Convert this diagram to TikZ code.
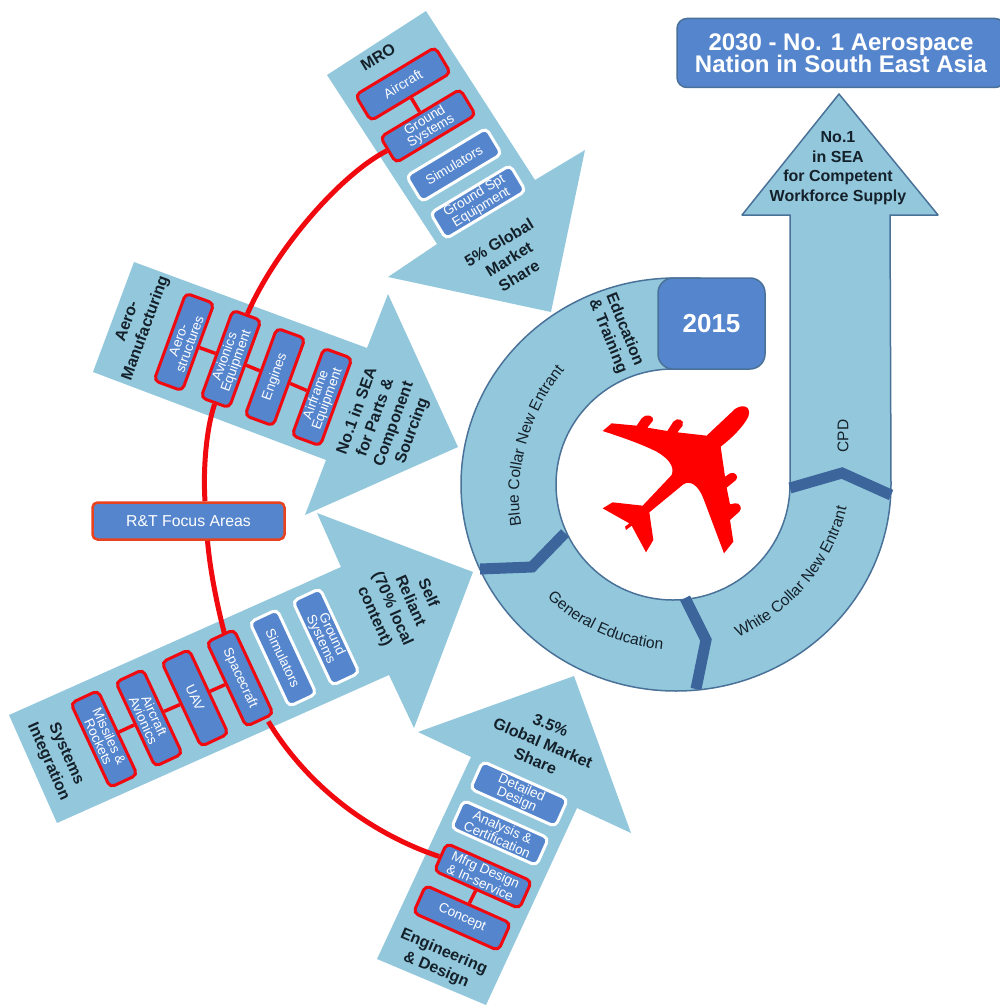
\documentclass[tikz,border=0pt]{standalone}
\usepackage{fontspec}
\setmainfont{Liberation Sans}
\usetikzlibrary{decorations.text}
\definecolor{lightb}{HTML}{93C8DC}
\definecolor{boxb}{HTML}{5585CC}
\definecolor{darkb}{HTML}{3C659C}
\definecolor{edgeb}{HTML}{4A7299}
\definecolor{redl}{HTML}{F00A10}
\definecolor{rtedge}{HTML}{E8431F}
\definecolor{txt}{HTML}{14202A}
\tikzset{
  arrowshape/.style={fill=lightb,draw=none},
  basebox/.style={rectangle,rounded corners=5pt,fill=boxb,text=white,align=center,inner sep=0pt,line width=3pt,
     minimum width=93pt,minimum height=30pt,font=\fontsize{13.5}{12}\selectfont},
  rbox/.style={basebox,draw=redl},
  wbox/.style={basebox,draw=white},
  lab/.style={font=\fontsize{16}{19.5}\selectfont\bfseries,align=center,inner sep=0pt,text=txt},
  link/.style={draw=redl,line width=3.5pt},
  redarc/.style={draw=redl,line width=5pt},
  sepline/.style={draw=darkb,line width=11pt,line join=miter},
  ringtext/.style={decorate,decoration={text along path,text align=center,text={#1}}},
}
\newcommand{\ringf}{\fontsize{15.6}{17}\selectfont\color{txt}}
\begin{document}
\begin{tikzpicture}[x=1pt,y=-1pt]
\useasboundingbox (0,0) rectangle (1000,1006);
% outer arrows
\path[arrowshape] (327,75) -- (426,11) -- (535,180) -- (585,150) -- (551,312) -- (388,277) -- (437,244) -- cycle;
\path[arrowshape] (134,262) -- (93,372) -- (326,460) -- (305,515) -- (458,447) -- (388,294) -- (367,348) -- cycle;
\path[arrowshape] (9,715) -- (57,823) -- (389,675) -- (414,728) -- (473,572) -- (317,513) -- (341,567) -- cycle;
\path[arrowshape] (377,959) -- (486,1005) -- (577,808) -- (631,833) -- (574,676) -- (418,732) -- (471,757) -- cycle;
% ring and big arrow
\draw[fill=lightb,draw=edgeb,line width=1.5pt,line join=round]
  (700,278) -- (676,278) arc[start angle=270,end angle=0,x radius=215,y radius=206.5]
  -- (890,215) -- (938,215) -- (839,94) -- (742,215) -- (790,215) -- (790,484.5)
  arc[start angle=0,end angle=270,x radius=117,y radius=115.5] -- (700,369) -- cycle;
% separators
\draw[sepline] (790,488) -- (842,473) -- (891,495);
\draw[sepline] (565,533) -- (532,567) -- (480,569);
\draw[sepline] (685,598) -- (706,640) -- (696,689);
% 2015 and title
\node[fill=boxb,draw=edgeb,line width=1.5pt,rounded corners=15pt,minimum width=107pt,minimum height=91pt,inner sep=0pt,text=white,font=\fontsize{26}{28}\selectfont\bfseries] (yr) at (711.5,323.5) {2015};
\node[fill=boxb,draw=edgeb,line width=1.5pt,rounded corners=10pt,minimum width=328pt,minimum height=69pt,inner sep=0pt,text=white,align=center,font=\fontsize{24}{22.5}\selectfont\bfseries] (title) at (841,53) {2030 - No. 1 Aerospace\\Nation in South East Asia};
% plane
\begin{scope}[shift={(590,395)},x=0.33333pt,y=-0.33333pt]
\fill[red] (38,108) -- (65,85) -- (140,92) -- (155,70) .. controls (165,55) and (195,60) .. (188,78) -- (172,98) -- (232,108) -- (250,80)
 .. controls (262,65) and (285,75) .. (278,92) -- (262,112) -- (350,122) -- (435,42) .. controls (460,25) and (485,35) .. (475,65)
 .. controls (460,95) and (425,130) .. (392,155) -- (405,245) -- (420,235) .. controls (435,228) and (448,245) .. (438,255) -- (410,278) -- (420,328) -- (435,325)
 .. controls (450,322) and (458,340) .. (448,350) -- (420,375) -- (430,440) -- (402,475) -- (340,310) .. controls (325,270) and (300,255) .. (280,268)
 -- (178,352) -- (190,435) -- (168,472) -- (125,392) -- (108,405) -- (105,395) -- (118,385) -- (38,340) -- (68,322) -- (158,332) -- (245,240)
 .. controls (255,215) and (235,190) .. (200,170) .. controls (150,145) and (90,125) .. (38,108) -- cycle;
\end{scope}
% MRO
\node[rbox,rotate=31] (ac) at (403,84) {Aircraft};
\node[rbox,rotate=31] (gs) at (428,126) {Ground\\Systems};
\node[wbox,rotate=31] (sim1) at (454,165) {Simulators};
\node[wbox,rotate=31] (gse) at (478,202) {Ground Spt\\Equipment};
\node[lab,rotate=31] (mro) at (378,57) {MRO};
\node[lab,rotate=31] (l5) at (509,259) {5\% Global\\Market\\Share};
% Aero manufacturing
\node[rbox,rotate=70] (aero) at (184,342) {Aero-\\structures};
\node[rbox,rotate=70] (av) at (231,359) {Avionics\\Equipment};
\node[rbox,rotate=70] (eng) at (275,377) {Engines};
\node[rbox,rotate=70] (air) at (322,397) {Airframe\\Equipment};
\node[lab,rotate=70] (lam) at (137,325) {Aero-\\Manufacturing};
\node[lab,rotate=70] (lsea) at (385,421) {No.1 in SEA\\for Parts \&\\Component\\Sourcing};
% R&T
\node[fill=boxb,draw=rtedge,line width=2.5pt,rounded corners=5pt,minimum width=192pt,minimum height=37pt,inner sep=0pt,text=white,font=\fontsize{15.8}{17}\selectfont] (rt) at (188.5,521) {R\&T Focus Areas};
% Systems integration
\node[rbox,rotate=-65] (mis) at (104,739) {Missiles \&\\Rockets};
\node[rbox,rotate=-65] (aav) at (149,718) {Aircraft\\Avionics};
\node[rbox,rotate=-65] (uav) at (195,698) {UAV};
\node[rbox,rotate=-65] (sc) at (240,678) {Spacecraft};
\node[wbox,rotate=-65] (sim2) at (283,658) {Simulators};
\node[wbox,rotate=-65] (gs2) at (326,637) {Ground\\Systems};
\node[lab,rotate=-66] (lsi) at (57,758) {Systems\\Integration};
\node[lab,rotate=-66] (lsr) at (401,605) {Self\\Reliant\\(70\% local\\content)};
% Engineering & design
\node[wbox,rotate=-24] (dd) at (519,794) {Detailed\\Design};
\node[wbox,rotate=-24] (ac2) at (500,833) {Analysis \&\\Certification};
\node[rbox,rotate=-24] (mf) at (483,876) {Mfrg Design\\\& In-service};
\node[rbox,rotate=-24] (con) at (462,918) {Concept};
\node[lab,rotate=-23] (led) at (440,961) {Engineering\\\& Design};
\node[lab,rotate=-23] (l35) at (543,743) {3.5\%\\Global Market\\Share};
% ring labels
\node[lab,rotate=-68,font=\fontsize{16}{18}\selectfont\bfseries] (let) at (616,333) {Education\\\& Training};
\node[lab] (lws) at (838,168) {No.1\\in SEA\\for Competent\\Workforce Supply};
\node[rotate=90,font=\fontsize{15.5}{17}\selectfont,text=txt,inner sep=0pt] (cpd) at (843,436) {CPD};
\path[ringtext={|\ringf|Blue Collar New Entrant}] (522,528) .. controls (511,475) and (530,410) .. (566,368);
\path[ringtext={|\ringf|General Education}] (547,597) .. controls (575,625) and (615,645) .. (663,650);
\path[ringtext={|\ringf|White Collar New Entrant}] (733,640) .. controls (790,615) and (835,565) .. (848,502);
% connectors
\draw[link] (ac) -- (gs);
\draw[link] (aero) -- (av);
\draw[link] (av) -- (eng);
\draw[link] (eng) -- (air);
\draw[link] (mis) -- (aav);
\draw[link] (aav) -- (uav);
\draw[link] (uav) -- (sc);
\draw[link] (mf) -- (con);
\draw[redarc] (gs.west) .. controls (340,175) and (275,250) .. (av.east);
\draw[redarc] (av.west) .. controls (206,430) and (203,470) .. ([xshift=16.5pt]rt.north);
\draw[redarc] ([xshift=19pt]rt.south) .. controls (210,570) and (217,605) .. ([xshift=5pt]sc.west);
\draw[redarc] ([xshift=8pt]sc.east) .. controls (310,790) and (375,835) .. (mf.west);
\end{tikzpicture}
\end{document}
